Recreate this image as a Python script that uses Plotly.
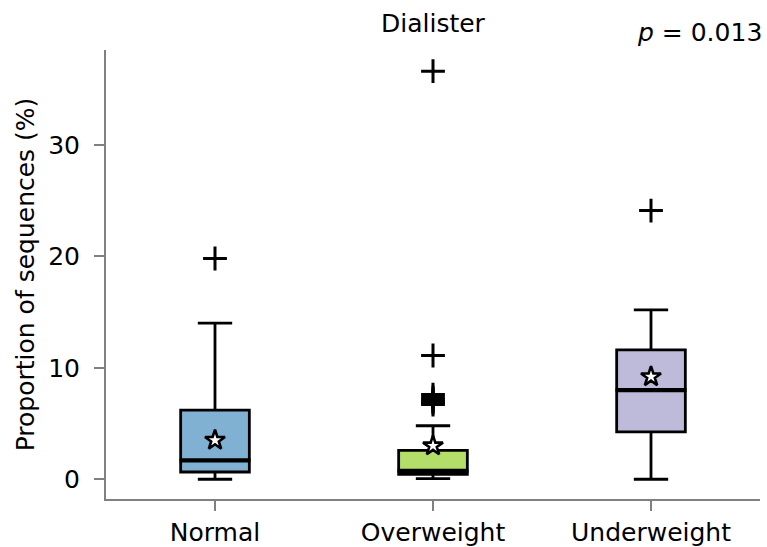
import plotly.graph_objects as go

categories = ["Normal", "Overweight", "Underweight"]
q1 = [0.65, 0.45, 4.25]
median = [1.7, 0.75, 8.0]
q3 = [6.2, 2.6, 11.6]
lower_fence = [0.0, 0.05, 0.0]
upper_fence = [14.0, 4.8, 15.2]
means = [3.5, 3.0, 9.2]
outliers = [
    [19.8],
    [36.6, 11.1, 7.6, 7.35, 7.15, 7.0, 6.85, 6.7],
    [24.1],
]
colors = ["#80b1d3", "#b3de69", "#bebada"]
title = "Dialister"
p_text = "<i>p</i> = 0.013"
y_title = "Proportion of sequences (%)"
y_ticks = [0, 10, 20, 30]

FONT = "DejaVu Sans"
FS = 25
BOXW = 0.315

fig = go.Figure()
for i, cat in enumerate(categories):
    fig.add_trace(go.Box(
        x=[i], q1=[q1[i]], median=[median[i]], q3=[q3[i]],
        lowerfence=[lower_fence[i]], upperfence=[upper_fence[i]],
        width=BOXW, whiskerwidth=0.5, fillcolor=colors[i],
        line=dict(color="black", width=2.8), boxpoints=False,
        showlegend=False, hoverinfo="skip",
    ))
    # thicker median line
    fig.add_trace(go.Scatter(
        x=[i - BOXW / 2 - 0.005, i + BOXW / 2 + 0.005], y=[median[i], median[i]],
        mode="lines", line=dict(color="black", width=4.2),
        showlegend=False, hoverinfo="skip",
    ))
    # outliers
    fig.add_trace(go.Scatter(
        x=[i] * len(outliers[i]), y=outliers[i], mode="markers",
        marker=dict(symbol="cross-thin", size=17, color="black",
                    line=dict(color="black", width=3)),
        showlegend=False, hoverinfo="skip",
    ))
    # mean
    fig.add_trace(go.Scatter(
        x=[i], y=[means[i]], mode="markers",
        marker=dict(symbol="star", size=15, color="white",
                    line=dict(color="black", width=2.6)),
        showlegend=False, hoverinfo="skip",
    ))

fig.add_annotation(text=title, x=0.5, xref="paper", y=1.0, yref="paper",
                   yanchor="bottom", yshift=10, showarrow=False,
                   font=dict(family=FONT, size=FS, color="black"))
fig.add_annotation(text=p_text, x=1.0, xref="paper", y=1.0, yref="paper",
                   xanchor="right", yanchor="top", xshift=4, yshift=34, showarrow=False,
                   font=dict(family=FONT, size=FS, color="black"))

fig.update_layout(
    width=767, height=547,
    margin=dict(l=106, r=7, t=50, b=48, autoexpand=False),
    paper_bgcolor="white", plot_bgcolor="white",
    font=dict(family=FONT, size=FS, color="black"),
    xaxis=dict(range=[-0.5, 2.5], tickvals=list(range(len(categories))),
               ticktext=categories, showgrid=False, zeroline=False,
               showline=True, linecolor="#808080", linewidth=2, automargin=False,
               ticks="outside", ticklen=10, tickwidth=2, tickcolor="#808080",
               tickfont=dict(family=FONT, size=FS, color="black")),
    yaxis=dict(range=[-1.77, 38.5], tickvals=y_ticks, showgrid=False,
               zeroline=False, showline=True, linecolor="#808080", linewidth=2,
               automargin=False, ticklabelstandoff=9,
               ticks="outside", ticklen=10, tickwidth=2, tickcolor="#808080",
               tickfont=dict(family=FONT, size=FS, color="black"),
               title=dict(text=y_title, font=dict(family=FONT, size=FS, color="black"),
                          standoff=6)),
)

fig.write_html("out.html")
